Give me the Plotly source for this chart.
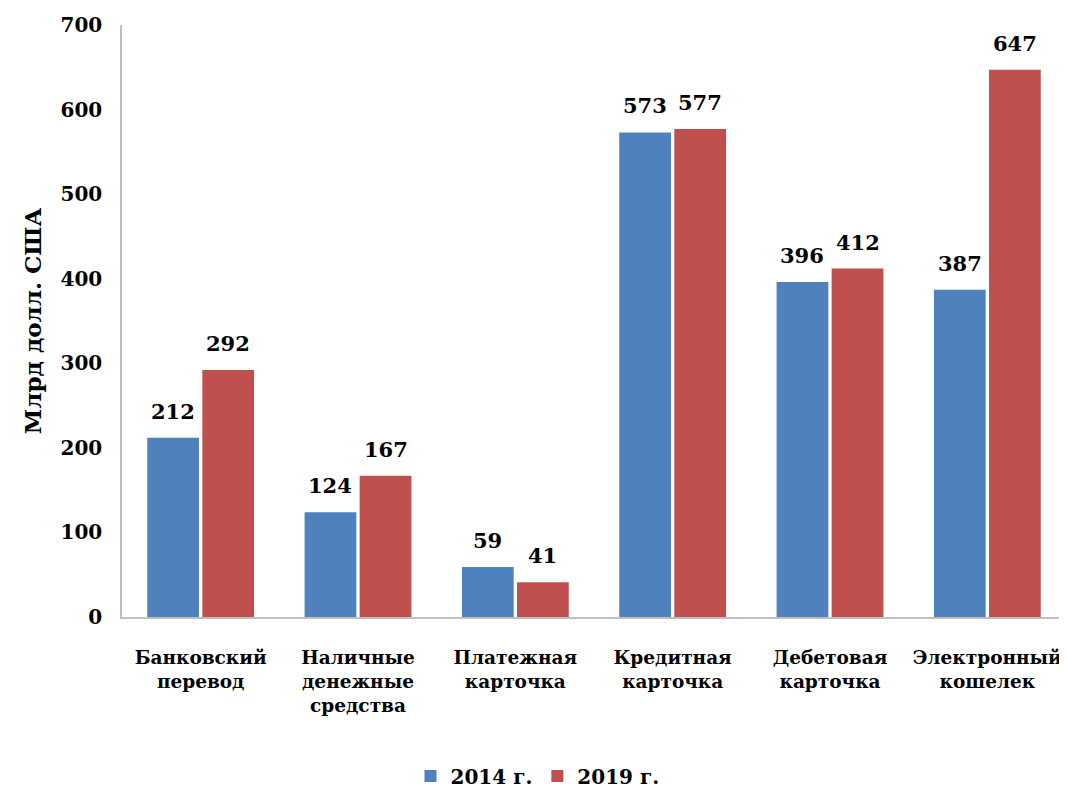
import plotly.graph_objects as go

categories = ["Банковский<br>перевод", "Наличные<br>денежные<br>средства", "Платежная<br>карточка",
              "Кредитная<br>карточка", "Дебетовая<br>карточка", "Электронный<br>кошелек"]
values_2014 = [212, 124, 59, 573, 396, 387]
values_2019 = [292, 167, 41, 577, 412, 647]
series_names = ["2014 г.", "2019 г."]
y_ticks = [0, 100, 200, 300, 400, 500, 600, 700]

FONT = "DejaVu Serif"
blue = "#4F81BD"
red = "#C0504D"

fig = go.Figure()
fig.add_trace(go.Bar(x=categories, y=values_2014, name=f"<b>{series_names[0]}</b>", marker_color=blue,
                     marker_line_width=0))
fig.add_trace(go.Bar(x=categories, y=values_2019, name=f"<b>{series_names[1]}</b>", marker_color=red,
                     marker_line_width=0))

annotations = []
offset = 0.175
for i, (a, b) in enumerate(zip(values_2014, values_2019)):
    for xx, v in ((i - offset, a), (i + offset, b)):
        annotations.append(dict(x=xx, y=v, xref="x", yref="y", text=f"<b>{v}</b>", showarrow=False,
                                yanchor="bottom", yshift=12,
                                font=dict(family=FONT, size=21, color="black")))

fig.update_layout(
    width=1059, height=782,
    margin=dict(l=114, r=1, t=17, b=173, autoexpand=False),
    paper_bgcolor="white", plot_bgcolor="white",
    barmode="group", bargap=0.30, bargroupgap=0.06,
    font=dict(family=FONT, size=20, color="black"),
    showlegend=True,
    legend=dict(orientation="h", x=0.5, xanchor="center", xref="container",
                y=0.018, yanchor="middle", yref="container",
                font=dict(family=FONT, size=20, color="black"), itemwidth=30,
                traceorder="normal"),
    annotations=annotations,
)
fig.update_xaxes(type="category", range=[-0.5, 5.5], showline=True, linecolor="#BFBFBF", linewidth=1.5,
                 ticks="", showgrid=False, tickangle=0, automargin=False, ticklabelstandoff=23,
                 tickfont=dict(family=FONT, size=18.5, color="black"),
                 tickvals=categories, ticktext=[f"<b>{c}</b>" for c in categories])
fig.update_yaxes(range=[0, 700], tickvals=y_ticks, ticktext=[f"<b>{t}</b>" for t in y_ticks],
                 showline=True, linecolor="#BFBFBF", linewidth=1.5, showgrid=False, zeroline=False,
                 ticks="", ticklabelstandoff=14, automargin=False,
                 tickfont=dict(family=FONT, size=20, color="black"),
                 title=dict(text="<b>Млрд долл. США</b>", font=dict(family=FONT, size=23, color="black"),
                            standoff=12))

fig.write_html("out.html")
